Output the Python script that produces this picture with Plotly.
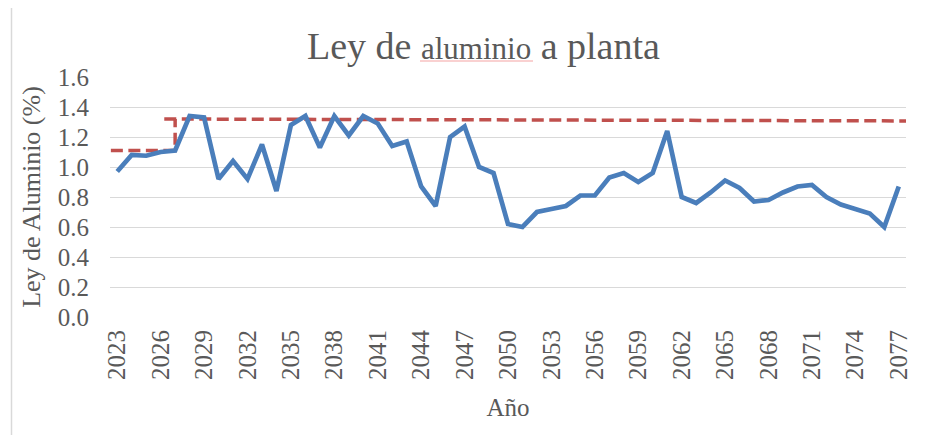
import plotly.graph_objects as go

years = list(range(2023, 2078))
ley_aluminio = [0.97, 1.08, 1.075, 1.10, 1.11, 1.34, 1.33, 0.92, 1.04, 0.92,
                1.15, 0.84, 1.28, 1.34, 1.13, 1.34, 1.21, 1.34, 1.29, 1.14,
                1.17, 0.87, 0.74, 1.20, 1.27, 1.00, 0.96, 0.62, 0.60, 0.70,
                0.72, 0.74, 0.81, 0.81, 0.93, 0.96, 0.90, 0.96, 1.24, 0.80,
                0.76, 0.83, 0.91, 0.86, 0.77, 0.78, 0.83, 0.87, 0.88, 0.80,
                0.75, 0.72, 0.69, 0.60, 0.87]

# reference (dashed) line
ref_low_x = [2022.56, 2027.0, 2027.0]
ref_low_y = [1.11, 1.11, 1.32]
ref_high_x = [2026.25, 2077.95]
ref_high_y = [1.32, 1.307]

tick_years = list(range(2023, 2078, 3))
y_ticks = [0.0, 0.2, 0.4, 0.6, 0.8, 1.0, 1.2, 1.4, 1.6]

GREY = "#595959"
FONT = "Liberation Serif"

fig = go.Figure()
fig.add_trace(go.Scatter(x=ref_low_x, y=ref_low_y, mode="lines",
                         line=dict(color="#C0504D", width=3.5, dash="12px,5.5px"),
                         showlegend=False, hoverinfo="skip"))
fig.add_trace(go.Scatter(x=ref_high_x, y=ref_high_y, mode="lines",
                         line=dict(color="#C0504D", width=3.5, dash="12px,5.5px"),
                         showlegend=False, hoverinfo="skip"))
fig.add_trace(go.Scatter(x=years, y=ley_aluminio, mode="lines",
                         line=dict(color="#4A7EBB", width=4.7),
                         showlegend=False))

# page has an 8px body margin; figure starts at (8, 8)
OFF = 8
W, H = 941 - OFF, 435 - OFF
L, R, T, B = 110 - OFF, 35, 77 - OFF, 118
pw, ph = W - L - R, H - T - B
PL, PB = 110, 317  # plot-area left / bottom in page pixels


def px_x(p):
    return (p - PL) / pw


def px_y(p):
    return (PB - p) / ph


fig.update_layout(
    width=W, height=H,
    margin=dict(l=L, r=R, t=T, b=B, pad=0, autoexpand=False),
    paper_bgcolor="white", plot_bgcolor="white",
    font=dict(family=FONT, color=GREY, size=25),
    xaxis=dict(range=[2022.5, 2077.5], tickmode="array", tickvals=tick_years,
               ticktext=[str(y) for y in tick_years], tickangle=-90,
               showgrid=False, zeroline=False, showline=False, automargin=False,
               ticks="", ticklabelstandoff=7,
               tickfont=dict(family=FONT, size=25, color=GREY),
               title=dict(text="Año", font=dict(family=FONT, size=25, color=GREY), standoff=19)),
    yaxis=dict(range=[0, 1.6], tickmode="array", tickvals=y_ticks, tickformat=".1f",
               showgrid=True, gridcolor="#D9D9D9", gridwidth=1.4, automargin=False,
               zeroline=False, showline=False, ticks="", ticklabelstandoff=20,
               tickfont=dict(family=FONT, size=25, color=GREY),
               title=dict(text="Ley de Aluminio (%)", font=dict(family=FONT, size=26, color=GREY), standoff=9)),
    shapes=[
        dict(type="rect", xref="paper", yref="paper",
             x0=px_x(11.5), x1=px_x(960), y0=px_y(5.5), y1=px_y(460),
             line=dict(color="#D9D9D9", width=1.5), fillcolor="rgba(0,0,0,0)", layer="below"),
        dict(type="line", xref="paper", yref="paper",
             x0=px_x(420), x1=px_x(533), y0=px_y(61), y1=px_y(61),
             line=dict(color="#F4A3A3", width=1)),
    ],
    annotations=[
        dict(text="Ley de <span style='font-size:31px'>aluminio</span> a planta",
             xref="paper", yref="paper", x=px_x(483), y=px_y(46),
             xanchor="center", yanchor="middle", showarrow=False,
             font=dict(family=FONT, size=38, color=GREY)),
    ],
)

fig.write_html("out.html")
